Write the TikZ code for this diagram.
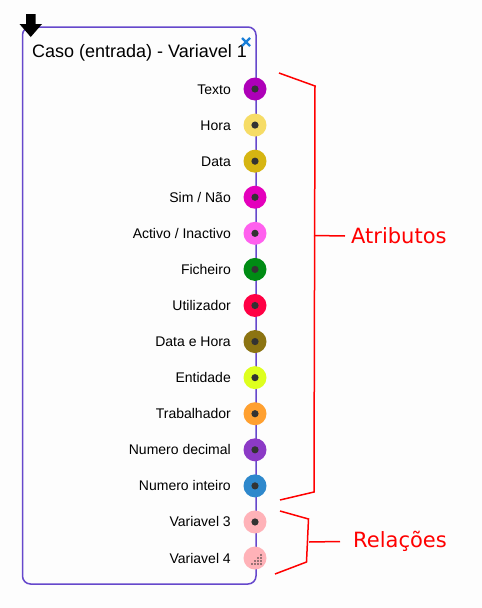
\documentclass[tikz,border=0pt]{standalone}
\usepackage{fontspec}
\setmainfont{Liberation Sans}
\newfontfamily\djv{DejaVu Sans}
\definecolor{boxc}{HTML}{6648CC}
\definecolor{bg}{HTML}{FDFDFD}
\definecolor{dotc}{HTML}{333333}
\definecolor{redc}{HTML}{FF0000}
\definecolor{closec}{HTML}{1A7FD8}
\definecolor{c1}{HTML}{AE00B8}
\definecolor{c2}{HTML}{F6DC66}
\definecolor{c3}{HTML}{D6B512}
\definecolor{c4}{HTML}{E400BC}
\definecolor{c5}{HTML}{FF60EE}
\definecolor{c6}{HTML}{008C14}
\definecolor{c7}{HTML}{FF0044}
\definecolor{c8}{HTML}{8C7412}
\definecolor{c9}{HTML}{DEFF1E}
\definecolor{c10}{HTML}{FFA030}
\definecolor{c11}{HTML}{8C3AC6}
\definecolor{c12}{HTML}{2E88CC}
\definecolor{c13}{HTML}{FFB2B8}
\definecolor{c14}{HTML}{FFB2B8}
\tikzset{
  port/.style={circle, minimum size=23pt, inner sep=0pt},
  lbl/.style={anchor=base east, font=\fontsize{14}{16}\selectfont, inner sep=0pt},
  brk/.style={draw=redc, line width=1.5pt},
  grp/.style={anchor=west, text=redc, font=\djv\fontsize{21}{24}\selectfont, inner sep=0pt},
}
\begin{document}
\begin{tikzpicture}[x=1pt,y=-1pt]
\fill[bg] (0,0) rectangle (482,608);
\useasboundingbox (0,0) rectangle (482,608);
% box
\draw[boxc, line width=1.5pt, rounded corners=8pt] (22.5,27) rectangle (256,584);
\node[anchor=base west, inner sep=0pt, font=\fontsize{18}{20}\selectfont] (title) at (32,57) {Caso (entrada) - Variavel 1};
% close
\draw[closec, line width=2.4pt] (242,38) -- (250,46) (250,38) -- (242,46);
% arrow
\fill[black] (26,14) -- (35.5,14) -- (35.5,24) -- (42,24) -- (30.75,37) -- (19.5,24) -- (26,24) -- cycle;
% ports
\foreach \t [count=\i] in {Texto,Hora,Data,Sim / Não,Activo / Inactivo,Ficheiro,Utilizador,Data e Hora,Entidade,Trabalhador,Numero decimal,Numero inteiro,Variavel 3,Variavel 4}{
  \pgfmathsetmacro{\yy}{89+(\i-1)*36.08}
  \node[port, fill=c\i] (p\i) at (255,\yy) {};
  \node[lbl] (l\i) at (231,\yy+5) {\t};
}
\foreach \i in {1,...,13}{\fill[dotc] (p\i) circle (3.6pt);}
% pattern in Variavel 4
\foreach \r in {0,...,3}{
  \foreach \c in {0,...,\r}{
    \fill[dotc] ({261-\c*3},{555+\r*3}) circle (0.9pt);
  }
}
% brackets
\coordinate (a1) at (279,73);
\coordinate (a2) at (315,86);
\coordinate (a3) at (314,492);
\coordinate (a4) at (280,500);
\coordinate (am) at (314,235.5);
\coordinate (at) at (345,236);
\draw[brk] (a1) -- (a2) -- (a3) -- (a4);
\draw[brk] (am) -- (at);
\node[grp] (atr) at (351,236) {Atributos};
\coordinate (r1) at (280,511);
\coordinate (r2) at (308.5,519);
\coordinate (r3) at (306.5,562);
\coordinate (r4) at (275,574);
\coordinate (rm) at (309,542);
\coordinate (rt) at (340,541.5);
\draw[brk] (r1) -- (r2) -- (r3) -- (r4);
\draw[brk] (rm) -- (rt);
\node[grp] (rel) at (353,541) {Relações};
\end{tikzpicture}
\end{document}
